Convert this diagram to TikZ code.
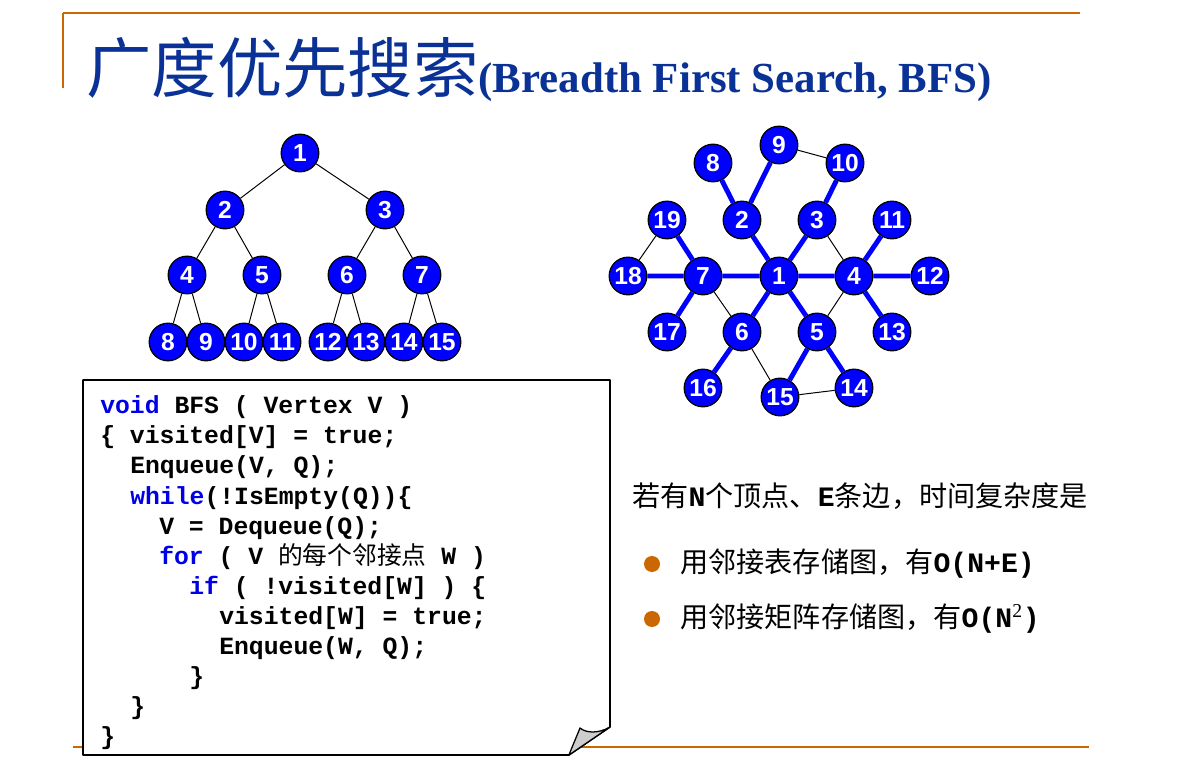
\documentclass[tikz,border=0pt]{standalone}
\usepackage{fontspec}
\setmainfont{Liberation Serif}
\setsansfont{Liberation Sans}
\setmonofont{Liberation Mono}
\newfontfamily\cjk{Noto Sans CJK SC}
\usepackage{xcolor}
\usepackage{tikz}
\usetikzlibrary{positioning}

\definecolor{slideorange}{RGB}{204,102,0}
\definecolor{titleblue}{RGB}{10,50,150}
\definecolor{vblue}{RGB}{0,0,255}
\definecolor{kwblue}{RGB}{0,0,230}
\definecolor{foldgray}{RGB}{205,205,205}

\newcommand\kw[1]{\textcolor{kwblue}{#1}}
\newcommand\mono[1]{{\ttfamily\bfseries #1}}

\begin{document}
\frenchspacing
\begin{tikzpicture}[
  x=0.025cm, y=-0.025cm,
  vtx/.style={circle, draw=black, line width=0.9pt, fill=vblue, minimum size=0.94cm,
              inner sep=0pt, text=white, font=\sffamily\bfseries\fontsize{17.5}{17.5}\selectfont},
  thinedge/.style={line width=0.7pt},
  bfsedge/.style={line width=3.5pt, draw=vblue},
  rule/.style={draw=slideorange, line width=1.6pt},
  codebox/.style={draw=black, fill=white, line width=1.1pt, line join=round},
  fold/.style={draw=black, fill=foldgray, line width=0.9pt, line join=round},
  codeline/.style={anchor=base west, inner sep=0pt,
                   font=\ttfamily\bfseries\fontsize{17.6}{20}\selectfont},
  txt/.style={anchor=base west, inner sep=0pt, font=\cjk\fontsize{20}{24}\selectfont},
  bullet/.style={circle, fill=slideorange, minimum size=0.4cm, inner sep=0pt},
  heading/.style={anchor=base west, inner sep=0pt, text=titleblue}
]
\fill[white] (0,0) rectangle (1199,761);
\useasboundingbox (0,0) rectangle (1199,761);

% --- slide frame ---
\draw[rule] (63,13) -- (1080,13);
\draw[rule, line width=0.8pt] (63,13) -- (63,88);
\draw[rule, line width=2pt] (73,747) -- (1089,747);

% --- title ---
\node[heading] (ttl) at (86,93)
  {{\cjk\fontsize{46.5}{50}\selectfont 广度优先搜索}{\bfseries\fontsize{30.5}{34}\selectfont (Breadth First Search, BFS)}};

% --- binary tree (visiting order) ---
\node[vtx] (t1)  at (300,153) {1};
\node[vtx] (t2)  at (225,210) {2};
\node[vtx] (t3)  at (385,210) {3};
\node[vtx] (t4)  at (187,275) {4};
\node[vtx] (t5)  at (262,275) {5};
\node[vtx] (t6)  at (347,275) {6};
\node[vtx] (t7)  at (422,275) {7};
\node[vtx] (t8)  at (168,342) {8};
\node[vtx] (t9)  at (206,342) {9};
\node[vtx] (t10) at (244,342) {10};
\node[vtx] (t11) at (282,342) {11};
\node[vtx] (t12) at (328,342) {12};
\node[vtx] (t13) at (366,342) {13};
\node[vtx] (t14) at (404,342) {14};
\node[vtx] (t15) at (442,342) {15};

\draw[thinedge] (t1) -- (t2)  (t1) -- (t3);
\draw[thinedge] (t2) -- (t4)  (t2) -- (t5)  (t3) -- (t6)  (t3) -- (t7);
\draw[thinedge] (t4) -- (t8)  (t4) -- (t9)  (t5) -- (t10) (t5) -- (t11);
\draw[thinedge] (t6) -- (t12) (t6) -- (t13) (t7) -- (t14) (t7) -- (t15);

% --- graph with BFS tree edges ---
\node[vtx] (g9)  at (779,145) {9};
\node[vtx] (g8)  at (713,163) {8};
\node[vtx] (g10) at (845,163) {10};
\node[vtx] (g19) at (667,220) {19};
\node[vtx] (g2)  at (742,220) {2};
\node[vtx] (g3)  at (817,220) {3};
\node[vtx] (g11) at (892,220) {11};
\node[vtx] (g18) at (628,276) {18};
\node[vtx] (g7)  at (703,276) {7};
\node[vtx] (g1)  at (779,276) {1};
\node[vtx] (g4)  at (854,276) {4};
\node[vtx] (g12) at (930,276) {12};
\node[vtx] (g17) at (667,332) {17};
\node[vtx] (g6)  at (742,332) {6};
\node[vtx] (g5)  at (817,332) {5};
\node[vtx] (g13) at (892,332) {13};
\node[vtx] (g16) at (703,388) {16};
\node[vtx] (g15) at (780,397) {15};
\node[vtx] (g14) at (854,388) {14};

\draw[bfsedge] (g1) -- (g2)  (g1) -- (g3)  (g1) -- (g4)  (g1) -- (g5)
               (g1) -- (g6)  (g1) -- (g7);
\draw[bfsedge] (g2) -- (g8)  (g2) -- (g9)  (g3) -- (g10) (g4) -- (g11)
               (g4) -- (g12) (g4) -- (g13) (g5) -- (g14) (g5) -- (g15)
               (g6) -- (g16) (g7) -- (g17) (g7) -- (g18) (g7) -- (g19);
\draw[thinedge] (g9) -- (g10) (g19) -- (g18) (g3) -- (g4) (g7) -- (g6)
                (g4) -- (g5)  (g6) -- (g15)  (g15) -- (g14);

% --- code card with curled corner ---
\draw[codebox] (83,380) -- (610,380) -- (610,727) -- (569,755) -- (83,755) -- cycle;
\draw[fold] (569,755) -- (610,727) .. controls (598,734) and (586,733) .. (580,728)
            .. controls (576,738) and (572,747) .. (569,755) -- cycle;

\node[codeline] (c1)  at (100,414) {\kw{void} BFS ( Vertex V )};
\node[codeline] (c2)  at (100,444) {\{ visited[V] = true;};
\node[codeline] (c3)  at (130,474) {Enqueue(V, Q);};
\node[codeline] (c4)  at (130,504) {\kw{while}(!IsEmpty(Q))\{};
\node[codeline] (c5)  at (159,534) {V = Dequeue(Q);};
\node[codeline] (c6)  at (159,564) {\kw{for} ( V {\cjk\mdseries 的每个邻接点} W )};
\node[codeline] (c7)  at (189,594) {\kw{if} ( !visited[W] ) \{};
\node[codeline] (c8)  at (219,624) {visited[W] = true;};
\node[codeline] (c9)  at (219,654) {Enqueue(W, Q);};
\node[codeline] (c10) at (189,684) {\}};
\node[codeline] (c11) at (130,714) {\}};
\node[codeline] (c12) at (100,744) {\}};

% --- complexity notes ---
\node[txt] (cx) at (632,506) {若有\mono{N}个顶点、\mono{E}条边，时间复杂度是};
\node[bullet] (b1) at (652,564) {};
\node[bullet] (b2) at (652,619) {};
\node[txt, right=20pt of b1.center, anchor=west] (l1)
  {用邻接表存储图，有\mono{O(N+E)}};
\node[txt, right=20pt of b2.center, anchor=west] (l2)
  {用邻接矩阵存储图，有\mono{O(N\textsuperscript{\rmfamily\mdseries 2})}};

\end{tikzpicture}
\end{document}
